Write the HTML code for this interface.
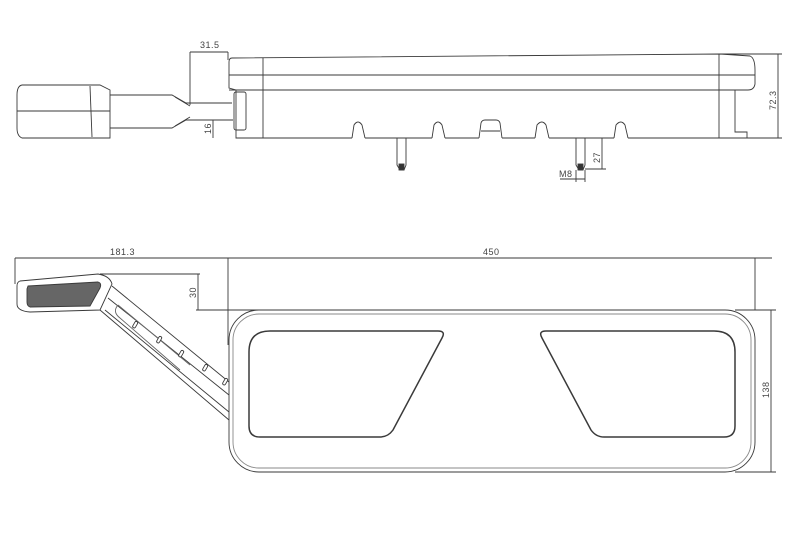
<!DOCTYPE html>
<html><head><style>
html,body{margin:0;padding:0;background:#fff;}
svg{display:block;}
text{font-family:"Liberation Sans",sans-serif;font-size:9px;fill:#444;stroke:none;letter-spacing:0.5px;}
</style></head><body>
<svg width="800" height="533" viewBox="0 0 800 533" fill="none" stroke="#3a3a3a" stroke-width="0.9">
<!-- TOP VIEW -->
<path d="M232,58 Q229,58 229,62 L229,88 L236,90 L236,138 L352,138 M365,138 L432,138 M445,138 L479,138 M502,138 L535,138 M549,138 L614,138 M628,138 L719,138"/>
<path d="M232,58 L720,54 L750,56 Q755,58 755,70 L755,84 Q754,90 748,90 L735,90 L735,132 L747,132 L747,138 L719,138"/>
<line x1="229" y1="75" x2="755" y2="75"/>
<line x1="229" y1="90" x2="735" y2="90"/>
<line x1="263" y1="58" x2="263" y2="138"/>
<line x1="719" y1="54" x2="719" y2="138"/>
<path d="M352,138 L354,125 Q358,119 362,125 L365,138"/>
<path d="M432,138 L434,125 Q438,119 442,125 L445,138"/>
<path d="M479,138 L481,123 Q482,120 485,120 L496,120 Q499,120 500,123 L502,138 M481,131 L500,131"/>
<path d="M535,138 L537,125 Q542,119 546,125 L549,138"/>
<path d="M614,138 L616,125 Q621,119 625,125 L628,138"/>
<path d="M397,138 L397,165 L400,170 L404,170 L406,165 L406,138"/>
<rect x="399" y="164" width="5" height="6" fill="#333"/>
<path d="M576,138 L576,165 L579,170 L583,170 L585,165 L585,138"/>
<rect x="578" y="164" width="5" height="6" fill="#333"/>
<path d="M22,85 L100,85 L110,90 L110,138 L22,138 Q17,136 17,128 L17,95 Q17,86 22,85"/>
<line x1="17" y1="111" x2="110" y2="111"/>
<line x1="90" y1="86" x2="92" y2="137"/>
<path d="M110,95 L172,95 L186,103 L232,103"/>
<path d="M110,128 L172,128 L186,120 L232,120"/>
<path d="M175,97 L190,106 M175,126 L190,117"/>
<rect x="234" y="92" width="12" height="38" rx="2"/>
<line x1="190" y1="52" x2="228" y2="52"/>
<line x1="190" y1="52" x2="190" y2="105"/>
<line x1="228" y1="52" x2="228" y2="60"/>
<text x="200" y="48">31.5</text>
<line x1="213" y1="120" x2="213" y2="138"/>
<line x1="205" y1="120" x2="233" y2="120"/>
<text transform="translate(211,134) rotate(-90)">16</text>
<line x1="719" y1="54" x2="782" y2="54"/>
<line x1="747" y1="138" x2="782" y2="138"/>
<line x1="778" y1="54" x2="778" y2="138"/>
<text transform="translate(776,110) rotate(-90)">72.3</text>
<line x1="602" y1="138" x2="602" y2="169"/>
<line x1="585" y1="169" x2="606" y2="169"/>
<text transform="translate(600,163) rotate(-90)">27</text>
<line x1="576" y1="170" x2="576" y2="182"/>
<line x1="585" y1="170" x2="585" y2="182"/>
<line x1="560" y1="179" x2="585" y2="179"/>
<text x="559" y="177">M8</text>

<!-- BOTTOM VIEW -->
<rect x="229" y="310" width="526" height="162" rx="30"/>
<rect x="233" y="314" width="518" height="154" rx="26" stroke="#888"/>
<path d="M270,331 L438,331 Q446,331 442,338 L393,430 Q388,437 380,437 L260,437 Q249,437 249,426 L249,352 Q249,331 270,331 Z" stroke-width="1.5"/>
<path d="M714,331 L546,331 Q538,331 542,338 L591,430 Q596,437 604,437 L724,437 Q735,437 735,426 L735,352 Q735,331 714,331 Z" stroke-width="1.5"/>
<path d="M20,281 L98,274 Q110,276 112,284 L100,310 L30,312 Q17,311 17,304 L17,286 Q17,282 20,281 Z"/>
<path d="M28,286 L98,282 Q102,283 100,288 L90,306 L30,307 Q27,306 27,302 L27,289 Z" fill="#666"/>
<path d="M112,286 L229,382 M100,310 L229,420 M108,298 L229,395 M105,310 L229,412"/>
<path d="M118,305 Q112,312 120,318 L180,370 M118,305 L190,365" stroke="#666"/>
<g fill="#fff">
<rect x="134" y="321" width="3" height="7" rx="1.5" transform="rotate(30 135 324)"/>
<rect x="158" y="336" width="3" height="7" rx="1.5" transform="rotate(30 159 339)"/>
<rect x="180" y="350" width="3" height="7" rx="1.5" transform="rotate(30 181 353)"/>
<rect x="204" y="364" width="3" height="7" rx="1.5" transform="rotate(30 205 367)"/>
<rect x="224" y="378" width="3" height="7" rx="1.5" transform="rotate(30 225 381)"/>
</g>
<line x1="15" y1="258" x2="772" y2="258"/>
<line x1="15" y1="258" x2="15" y2="284"/>
<line x1="228" y1="258" x2="228" y2="345"/>
<line x1="755" y1="258" x2="755" y2="310"/>
<text x="110" y="255">181.3</text>
<text x="483" y="255">450</text>
<line x1="100" y1="274" x2="200" y2="274"/>
<line x1="196" y1="310" x2="300" y2="310"/>
<line x1="198" y1="274" x2="198" y2="310"/>
<text transform="translate(196,298) rotate(-90)">30</text>
<line x1="735" y1="310" x2="776" y2="310"/>
<line x1="735" y1="472" x2="776" y2="472"/>
<line x1="771" y1="310" x2="771" y2="472"/>
<text transform="translate(769,398) rotate(-90)">138</text>
</svg>
</body></html>
